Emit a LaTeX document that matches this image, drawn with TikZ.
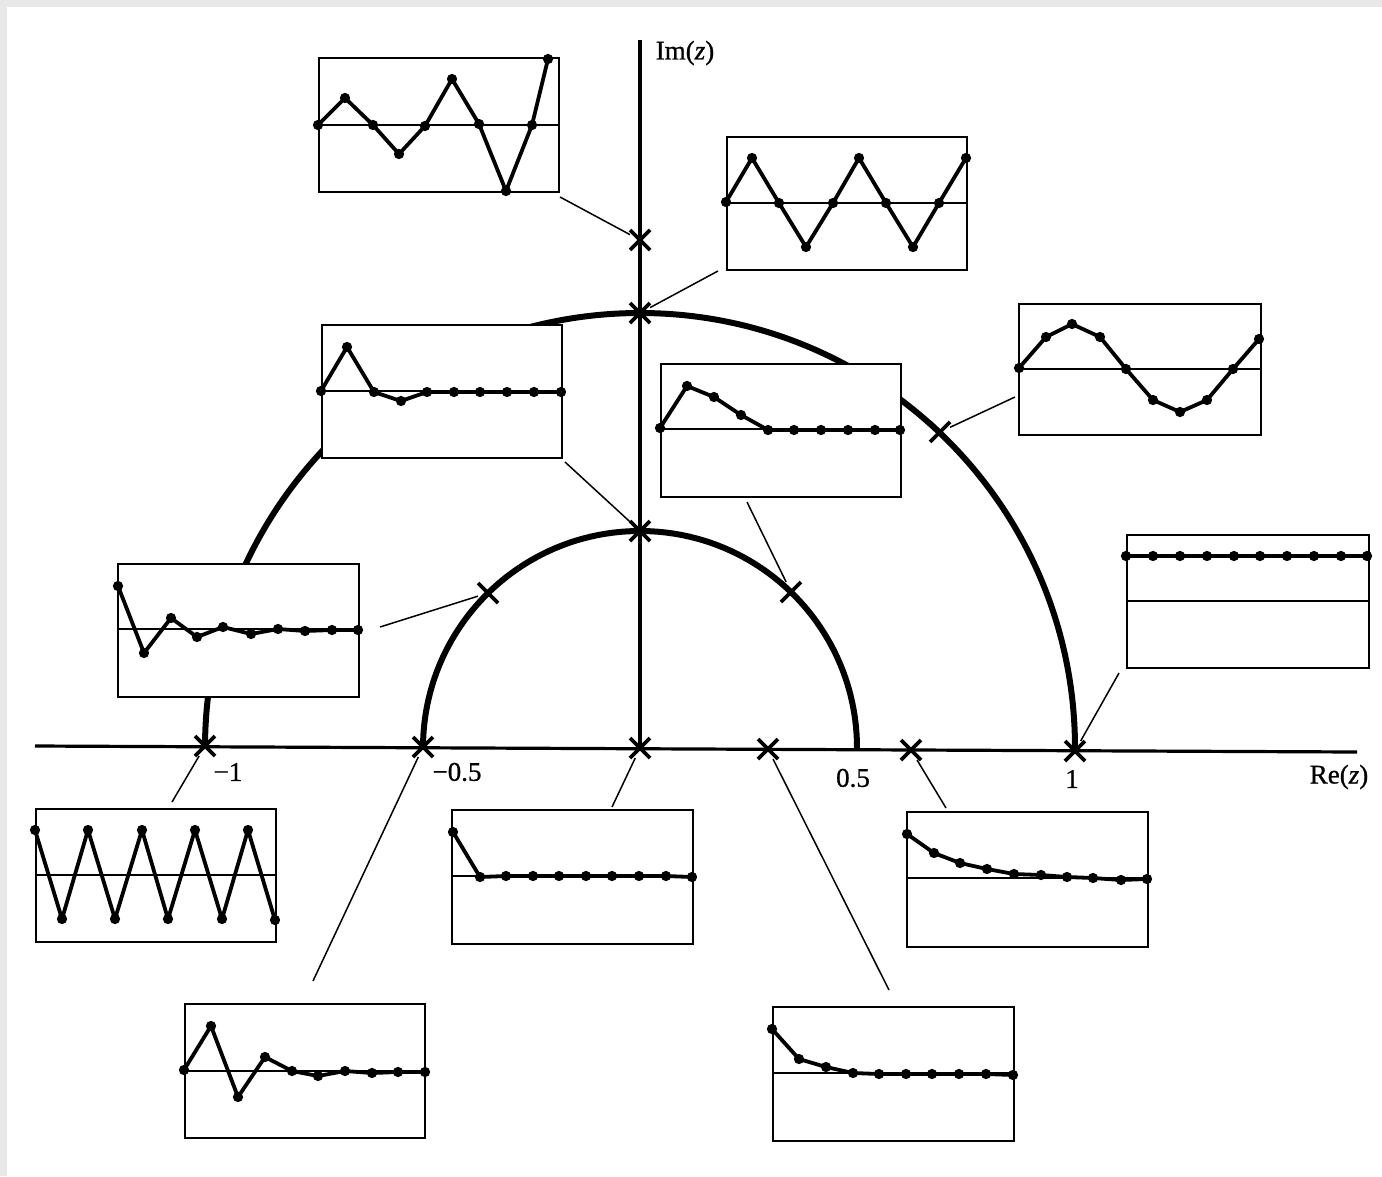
\documentclass[tikz,border=0pt]{standalone}
\usepackage{fontspec}
\setmainfont{Liberation Serif}
\newfontfamily\labelfont[FakeBold=0.8]{Liberation Serif}
\usetikzlibrary{shapes.misc}
\definecolor{edgegray}{HTML}{E8E8E8}
\newcommand\wavepanel[7]{%
  \node[panel, minimum width={#4-#2}, minimum height={#5-#3}] (#1) at (#2,#3) {};
  \draw[zeroline] (#2,#6) -- (#4,#6);
  \draw[wave] plot coordinates {#7};
}
\begin{document}
\begin{tikzpicture}[x=1pt,y=-1pt,
  panel/.style={draw, line width=2pt, fill=white, inner sep=0pt, anchor=north west},
  zeroline/.style={line width=1.6pt},
  wave/.style={line width=3.8pt, line join=round, mark=*, mark size=4.6pt, mark options={line width=1pt}},
  lead/.style={line width=1.5pt},
  axisline/.style={line width=3.2pt},
  locus/.style={line width=6pt},
  pole/.style={cross out, draw, line width=3.8pt, minimum size=20pt, inner sep=0pt, outer sep=0pt},
  lbl/.style={font=\labelfont\fontsize{27}{31}\selectfont, inner sep=0pt}]
\useasboundingbox (0,0) rectangle (1382,1176);
\fill[white] (0,0) rectangle (1382,1176);
\fill[edgegray] (0,0) rectangle (1382,7);
\fill[edgegray] (0,0) rectangle (7,1176);

% axes
\coordinate (xa) at (35,746);
\coordinate (xb) at (1357,752);
\coordinate (ya) at (640,40);
\coordinate (yb) at (640,748);
\draw[axisline] (xa) -- (xb);
\draw[axisline] (ya) -- (yb);

% loci
\draw[locus] (205,748) arc[start angle=180, end angle=360, x radius=435, y radius=435];
\draw[locus] (423,748) arc[start angle=180, end angle=360, x radius=217, y radius=217];

% poles
\node[pole] (p1) at (205,746) {};
\node[pole] (p2) at (423,747) {};
\node[pole] (p3) at (640,748) {};
\node[pole] (p4) at (768,749) {};
\node[pole] (p5) at (911,750) {};
\node[pole] (p6) at (1075,751) {};
\node[pole] (p7) at (640,531) {};
\node[pole] (p8) at (640,313) {};
\node[pole] (p9) at (640,240) {};
\node[pole] (p10) at (488,593) {};
\node[pole] (p11) at (791,592) {};
\node[pole] (p12) at (940,432) {};

% connectors
\coordinate (c1) at (560,197);
\coordinate (c2) at (718,271);
\coordinate (c3) at (565,462);
\coordinate (c4) at (747,502);
\coordinate (c5) at (1015,397);
\coordinate (c6) at (1119,673);
\coordinate (c7) at (380,627);
\coordinate (c8) at (172,802);
\coordinate (c9) at (612,807);
\coordinate (c10) at (946,808);
\coordinate (c11) at (313,981);
\coordinate (c12) at (889,990);
\draw[lead] (c1) -- (p9);
\draw[lead] (c2) -- (p8);
\draw[lead] (c3) -- (p7);
\draw[lead] (c4) -- (p11);
\draw[lead] (c5) -- (p12);
\draw[lead] (c6) -- (p6);
\draw[lead] (c7) -- (p10);
\draw[lead] (c8) -- (p1);
\draw[lead] (c9) -- (p3);
\draw[lead] (c10) -- (p5);
\draw[lead] (c11) -- (p2);
\draw[lead] (c12) -- (p4);

% panels
\wavepanel{b1}{318}{57}{558}{191}{125}{(318,125) (345,98) (373,125) (399,154) (425,126) (452,79) (479,124) (506,191) (532,125) (548,59)}
\wavepanel{b2}{726}{136}{966}{269}{203}{(726,202) (752,158) (779,203) (806,247) (833,203) (859,158) (886,203) (913,247) (939,203) (966,158)}
\wavepanel{b3}{321}{324}{561}{457}{391}{(321,391) (347,347) (374,392) (401,401) (427,392) (454,392) (480,392) (507,392) (534,392) (561,392)}
\wavepanel{b4}{660}{363}{900}{496}{429}{(660,428) (687,386) (714,397) (741,415) (768,430) (794,430) (821,430) (848,430) (875,430) (900,430)}
\wavepanel{b5}{1018}{303}{1260}{434}{369}{(1019,368) (1046,337) (1072,324) (1100,337) (1126,369) (1153,400) (1180,412) (1207,400) (1233,369) (1259,339)}
\wavepanel{b6}{1126}{534}{1368}{667}{601}{(1126,556) (1153,556) (1180,556) (1207,556) (1234,556) (1260,556) (1287,556) (1314,556) (1341,556) (1367,556)}
\wavepanel{b7}{117}{563}{358}{696}{629}{(118,586) (144,653) (171,618) (197,637) (223,627) (251,634) (278,629) (305,631) (332,630) (358,630)}
\wavepanel{b8}{35}{808}{275}{941}{875}{(35,830) (62,919) (88,830) (115,919) (142,830) (168,919) (195,830) (222,919) (248,830) (275,920)}
\wavepanel{b9}{451}{809}{692}{943}{876}{(453,832) (480,877) (506,876) (533,876) (559,876) (586,876) (612,876) (639,876) (666,876) (692,877)}
\wavepanel{b10}{906}{811}{1147}{946}{878}{(907,834) (934,853) (960,863) (987,869) (1014,874) (1041,875) (1067,877) (1093,878) (1121,880) (1147,879)}
\wavepanel{b11}{184}{1003}{424}{1137}{1071}{(184,1070) (211,1026) (238,1097) (265,1057) (292,1071) (318,1076) (345,1071) (372,1073) (398,1072) (425,1072)}
\wavepanel{b12}{772}{1006}{1013}{1140}{1073}{(772,1029) (799,1059) (826,1067) (853,1073) (879,1074) (906,1074) (932,1074) (959,1074) (986,1074) (1013,1075)}

% labels
\node[lbl] (im) at (685,53) {Im(\textit{z})};
\node[lbl] (re) at (1339,777) {Re(\textit{z})};
\node[lbl] (t1) at (228,772) {−1};
\node[lbl] (t2) at (457,772) {−0.5};
\node[lbl] (t3) at (853,778) {0.5};
\node[lbl] (t4) at (1072,779) {1};
\end{tikzpicture}
\end{document}
